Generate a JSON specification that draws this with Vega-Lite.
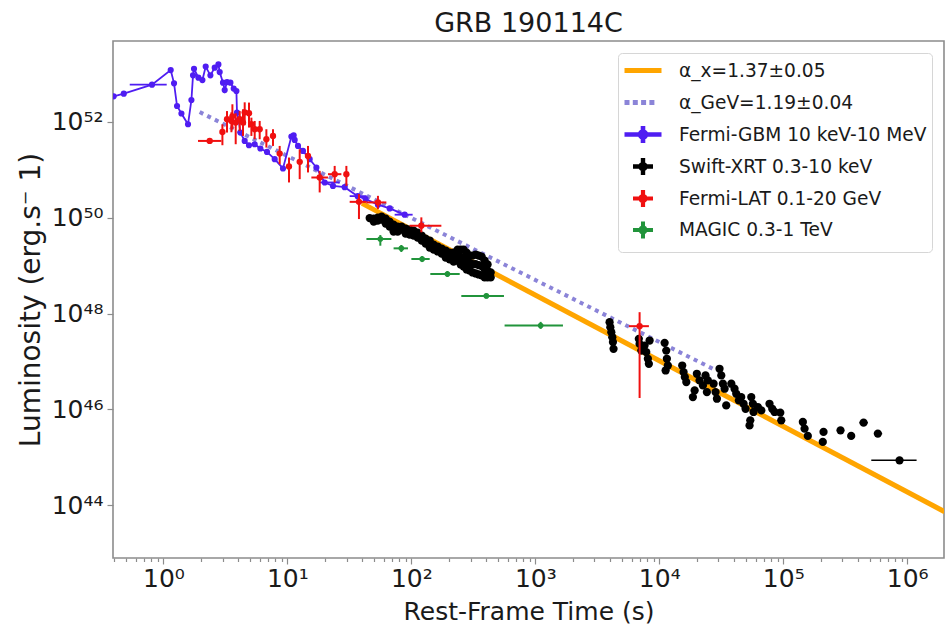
{
  "$schema": "https://vega.github.io/schema/vega-lite/v6.json",
  "width": 831,
  "height": 517,
  "padding": {"left": 17, "top": 10, "right": 2, "bottom": 4},
  "background": "white",
  "title": {"text": "GRB 190114C", "font": "DejaVu Sans", "fontSize": 27, "fontWeight": "normal", "color": "#1a1a1a", "anchor": "middle", "offset": 3},
  "config": {
    "font": "DejaVu Sans",
    "view": {"stroke": "#8c8c8c", "strokeWidth": 1.6}
  },
  "datasets": {
    "fit_x": [
      {"series": "α_x=1.37±0.05", "t": 40, "L": 2.0e50},
      {"series": "α_x=1.37±0.05", "t": 2.0e6, "L": 7.3e43}
    ],
    "fit_gev": [
      {"series": "α_GeV=1.19±0.04", "t": 1.96, "L": 1.61e52},
      {"series": "α_GeV=1.19±0.04", "t": 2.88e4, "L": 6.49e46}
    ],
    "gbm": [
      {"t": 0.397, "L": 3.43e52},
      {"t": 0.479, "L": 3.90e52},
      {"t": 0.809, "L": 6.01e52, "t_lo": 0.535, "t_hi": 1.063},
      {"t": 1.145, "L": 1.21e53},
      {"t": 1.218, "L": 6.40e52},
      {"t": 1.288, "L": 2.15e52},
      {"t": 1.397, "L": 1.50e52},
      {"t": 1.579, "L": 8.95e51},
      {"t": 1.682, "L": 2.87e52},
      {"t": 1.733, "L": 9.40e52},
      {"t": 1.765, "L": 1.29e53},
      {"t": 1.915, "L": 8.41e52},
      {"t": 2.063, "L": 7.50e52},
      {"t": 2.193, "L": 1.43e53},
      {"t": 2.393, "L": 9.40e52},
      {"t": 2.593, "L": 1.36e53},
      {"t": 2.777, "L": 1.59e53},
      {"t": 2.844, "L": 1.10e53},
      {"t": 3.024, "L": 6.62e52},
      {"t": 3.121, "L": 4.63e52},
      {"t": 3.259, "L": 6.81e52},
      {"t": 3.470, "L": 6.62e52},
      {"t": 3.689, "L": 4.97e52},
      {"t": 3.879, "L": 4.43e52},
      {"t": 3.922, "L": 1.57e52},
      {"t": 4.050, "L": 1.08e52},
      {"t": 4.178, "L": 6.01e51},
      {"t": 4.524, "L": 4.02e51},
      {"t": 4.900, "L": 3.27e51},
      {"t": 5.449, "L": 3.43e51},
      {"t": 6.056, "L": 2.79e51},
      {"t": 6.847, "L": 2.37e51},
      {"t": 7.900, "L": 1.67e51},
      {"t": 9.215, "L": 1.07e51},
      {"t": 10.77, "L": 4.97e51},
      {"t": 11.24, "L": 5.28e51},
      {"t": 11.45, "L": 4.22e51},
      {"t": 12.18, "L": 3.16e51},
      {"t": 13.36, "L": 2.49e51},
      {"t": 15.13, "L": 1.67e51},
      {"t": 17.14, "L": 1.12e51},
      {"t": 20.00, "L": 5.46e50, "t_lo": 18.22, "t_hi": 26.42},
      {"t": 23.32, "L": 4.63e50},
      {"t": 28.98, "L": 4.36e50},
      {"t": 36.89, "L": 2.83e50, "t_lo": 31.80, "t_hi": 43.61},
      {"t": 42.80, "L": 2.45e50},
      {"t": 53.78, "L": 1.88e50},
      {"t": 66.83, "L": 1.57e50},
      {"t": 88.31, "L": 1.16e50, "t_lo": 73.33, "t_hi": 102.4}
    ],
    "xrt": [
      {"t": 46.1, "L": 9.86e49},
      {"t": 49.7, "L": 9.62e49}, {"t": 49.7, "L": 8.33e49},
      {"t": 53.5, "L": 1.01e50}, {"t": 53.5, "L": 8.73e49},
      {"t": 57.6, "L": 1.06e50}, {"t": 57.6, "L": 9.17e49},
      {"t": 62.1, "L": 9.62e49}, {"t": 62.1, "L": 7.57e49},
      {"t": 66.8, "L": 8.33e49}, {"t": 66.8, "L": 6.55e49},
      {"t": 71.9, "L": 7.21e49}, {"t": 71.9, "L": 6.10e49}, {"t": 71.9, "L": 5.15e49},
      {"t": 77.6, "L": 6.55e49}, {"t": 77.6, "L": 5.15e49},
      {"t": 83.5, "L": 6.55e49}, {"t": 83.5, "L": 5.68e49},
      {"t": 89.9, "L": 5.96e49}, {"t": 89.9, "L": 4.69e49},
      {"t": 96.9, "L": 5.68e49}, {"t": 96.9, "L": 4.47e49},
      {"t": 104.4, "L": 5.41e49}, {"t": 104.4, "L": 4.26e49},
      {"t": 112.4, "L": 4.91e49}, {"t": 112.4, "L": 3.86e49},
      {"t": 121.1, "L": 4.26e49}, {"t": 121.1, "L": 3.35e49},
      {"t": 130.3, "L": 3.68e49}, {"t": 130.3, "L": 2.90e49},
      {"t": 140.6, "L": 3.35e49}, {"t": 140.6, "L": 2.83e49}, {"t": 140.6, "L": 2.39e49},
      {"t": 151.4, "L": 2.76e49}, {"t": 151.4, "L": 2.17e49},
      {"t": 163.0, "L": 2.51e49}, {"t": 163.0, "L": 1.98e49},
      {"t": 175.4, "L": 2.28e49}, {"t": 175.4, "L": 1.79e49},
      {"t": 189.2, "L": 2.07e49}, {"t": 189.2, "L": 1.75e49}, {"t": 189.2, "L": 1.48e49},
      {"t": 203.7, "L": 1.88e49}, {"t": 203.7, "L": 1.60e49}, {"t": 203.7, "L": 1.35e49},
      {"t": 219.3, "L": 1.88e49}, {"t": 219.3, "L": 1.52e49}, {"t": 219.3, "L": 1.22e49},
      {"t": 236.0, "L": 2.17e49}, {"t": 236.0, "L": 1.67e49}, {"t": 236.0, "L": 1.28e49},
      {"t": 250.0, "L": 2.17e49}, {"t": 250.0, "L": 1.52e49}, {"t": 250.0, "L": 1.06e49},
      {"t": 264.2, "L": 2.17e49}, {"t": 264.2, "L": 1.45e49}, {"t": 264.2, "L": 9.62e48},
      {"t": 279.3, "L": 1.88e49}, {"t": 279.3, "L": 1.25e49}, {"t": 279.3, "L": 8.33e48},
      {"t": 295.1, "L": 1.63e49}, {"t": 295.1, "L": 1.14e49}, {"t": 295.1, "L": 7.94e48},
      {"t": 311.9, "L": 1.63e49}, {"t": 311.9, "L": 1.08e49}, {"t": 311.9, "L": 7.21e48},
      {"t": 330.4, "L": 1.71e49}, {"t": 330.4, "L": 1.08e49}, {"t": 330.4, "L": 6.87e48},
      {"t": 349.1, "L": 1.63e49}, {"t": 349.1, "L": 1.03e49}, {"t": 349.1, "L": 6.55e48},
      {"t": 368.9, "L": 1.55e49}, {"t": 368.9, "L": 9.86e48}, {"t": 368.9, "L": 6.25e48},
      {"t": 389.9, "L": 1.28e49}, {"t": 389.9, "L": 8.53e48}, {"t": 389.9, "L": 5.68e48},
      {"t": 412.1, "L": 1.06e49}, {"t": 412.1, "L": 7.74e48}, {"t": 412.1, "L": 5.68e48},
      {"t": 436.5, "L": 7.21e48}, {"t": 436.5, "L": 5.68e48},
      {"t": 3972, "L": 6.62e47}, {"t": 4027, "L": 5.20e47}, {"t": 4102, "L": 4.09e47},
      {"t": 4178, "L": 3.22e47}, {"t": 4227, "L": 2.54e47}, {"t": 4276, "L": 1.84e47},
      {"t": 6839, "L": 2.97e47}, {"t": 6934, "L": 2.33e47}, {"t": 7161, "L": 1.69e47},
      {"t": 7603, "L": 2.15e47}, {"t": 7852, "L": 1.57e47}, {"t": 8091, "L": 1.14e47},
      {"t": 8241, "L": 8.95e46}, {"t": 8356, "L": 2.74e47},
      {"t": 11040, "L": 2.45e47}, {"t": 11380, "L": 1.69e47}, {"t": 11510, "L": 1.14e47},
      {"t": 11720, "L": 8.24e46}, {"t": 11250, "L": 6.49e46},
      {"t": 15310, "L": 8.24e46}, {"t": 15700, "L": 6.01e46}, {"t": 16070, "L": 4.73e46}, {"t": 16520, "L": 3.72e46},
      {"t": 18660, "L": 1.81e46}, {"t": 19280, "L": 2.49e46}, {"t": 20090, "L": 5.54e46}, {"t": 21130, "L": 4.02e46},
      {"t": 22490, "L": 3.16e46}, {"t": 23600, "L": 5.11e46}, {"t": 24210, "L": 2.30e46}, {"t": 24660, "L": 4.02e46},
      {"t": 27420, "L": 3.43e46}, {"t": 28440, "L": 2.30e46}, {"t": 29170, "L": 1.67e46}, {"t": 30620, "L": 7.05e46},
      {"t": 31620, "L": 5.11e46}, {"t": 32580, "L": 3.43e46}, {"t": 33650, "L": 2.70e46}, {"t": 34670, "L": 1.21e46},
      {"t": 38110, "L": 3.43e46}, {"t": 40460, "L": 2.70e46}, {"t": 41780, "L": 2.12e46}, {"t": 43850, "L": 1.54e46},
      {"t": 45810, "L": 1.81e46}, {"t": 47860, "L": 1.31e46}, {"t": 49660, "L": 1.03e46},
      {"t": 55210, "L": 1.81e46}, {"t": 56890, "L": 1.31e46}, {"t": 57540, "L": 8.83e45},
      {"t": 54200, "L": 5.90e45}, {"t": 53460, "L": 4.63e45}, {"t": 62370, "L": 1.12e46}, {"t": 66530, "L": 9.53e45},
      {"t": 77450, "L": 1.31e46}, {"t": 81470, "L": 1.03e46}, {"t": 85110, "L": 8.83e45},
      {"t": 96380, "L": 5.90e45}, {"t": 94620, "L": 8.53e45},
      {"t": 143900, "L": 5.46e45}, {"t": 148600, "L": 3.96e45}, {"t": 157800, "L": 2.79e45},
      {"t": 211300, "L": 3.38e45}, {"t": 208400, "L": 2.09e45},
      {"t": 289700, "L": 3.65e45}, {"t": 353200, "L": 2.79e45},
      {"t": 444600, "L": 5.28e45, "t_lo": 412000, "t_hi": 481000},
      {"t": 579400, "L": 3.12e45, "t_lo": 544000, "t_hi": 628000},
      {"t": 867000, "L": 8.65e44, "t_lo": 513000, "t_hi": 1190000}
    ],
    "lat": [
      {"t": 2.362, "L": 4.02e51, "t_lo": 1.901, "t_hi": 2.936},
      {"t": 2.991, "L": 6.18e51, "L_lo": 3.27e51, "L_hi": 8.95e51},
      {"t": 3.259, "L": 1.14e52, "L_lo": 6.01e51, "L_hi": 1.69e52},
      {"t": 3.535, "L": 1.05e52, "L_lo": 6.10e51, "L_hi": 1.59e52},
      {"t": 3.601, "L": 1.31e52, "L_lo": 7.05e51, "L_hi": 2.34e52},
      {"t": 3.829, "L": 9.70e51, "L_lo": 3.43e51, "L_hi": 1.52e52},
      {"t": 4.124, "L": 1.14e52, "L_lo": 6.49e51, "L_hi": 1.69e52},
      {"t": 4.385, "L": 9.70e51, "L_lo": 5.11e51, "L_hi": 1.84e52},
      {"t": 4.525, "L": 1.59e52, "L_lo": 8.53e51, "L_hi": 2.57e52},
      {"t": 4.900, "L": 1.52e52, "L_lo": 7.64e51, "L_hi": 2.54e52},
      {"t": 5.125, "L": 8.95e51, "L_lo": 5.11e51, "L_hi": 1.23e52},
      {"t": 5.449, "L": 7.05e51, "L_lo": 4.36e51, "L_hi": 1.05e52},
      {"t": 5.978, "L": 7.05e51, "L_lo": 4.36e51, "L_hi": 1.05e52},
      {"t": 6.769, "L": 4.36e51, "L_lo": 2.92e51, "L_hi": 7.05e51},
      {"t": 7.655, "L": 5.11e51, "L_lo": 3.16e51, "L_hi": 7.05e51},
      {"t": 8.667, "L": 2.19e51, "L_lo": 1.31e51, "L_hi": 3.16e51},
      {"t": 10.30, "L": 1.18e51, "L_lo": 5.46e50, "L_hi": 1.81e51},
      {"t": 12.57, "L": 1.47e51, "L_lo": 6.40e50, "L_hi": 2.70e51},
      {"t": 14.66, "L": 1.95e51, "L_lo": 8.83e50, "L_hi": 3.16e51},
      {"t": 18.22, "L": 6.93e50, "t_lo": 15.61, "t_hi": 21.25, "L_lo": 3.38e50, "L_hi": 9.53e50},
      {"t": 24.07, "L": 8.13e50, "t_lo": 21.25, "t_hi": 27.26, "L_lo": 5.46e50, "L_hi": 1.21e51},
      {"t": 29.91, "L": 8.13e50, "L_lo": 4.63e50, "L_hi": 1.21e51},
      {"t": 37.79, "L": 2.15e50, "t_lo": 31.80, "t_hi": 43.36, "L_lo": 9.40e49, "L_hi": 3.12e50},
      {"t": 53.78, "L": 2.09e50, "t_lo": 43.36, "t_hi": 62.86, "L_lo": 1.52e50, "L_hi": 2.87e50},
      {"t": 120.4, "L": 6.81e49, "t_lo": 96.9, "t_hi": 174.6, "L_lo": 4.97e49, "L_hi": 1.02e50},
      {"t": 6937, "L": 5.46e47, "t_lo": 5686, "t_hi": 8245, "L_lo": 1.73e46, "L_hi": 1.07e48}
    ],
    "magic": [
      {"t": 56.2, "L": 3.60e49, "t_lo": 43.4, "t_hi": 69.0, "L_lo": 2.61e49, "L_hi": 4.36e49},
      {"t": 83.0, "L": 2.30e49, "t_lo": 71.9, "t_hi": 93.9, "L_lo": 1.93e49, "L_hi": 2.70e49},
      {"t": 122.2, "L": 1.38e49, "t_lo": 100, "t_hi": 140.6, "L_lo": 1.19e49, "L_hi": 1.59e49},
      {"t": 195.4, "L": 6.71e48, "t_lo": 142.2, "t_hi": 245.5, "L_lo": 5.81e48, "L_hi": 7.74e48},
      {"t": 402.7, "L": 2.34e48, "t_lo": 252.9, "t_hi": 558.5, "L_lo": 2.07e48, "L_hi": 2.64e48},
      {"t": 1104, "L": 5.62e47, "t_lo": 565, "t_hi": 1671, "L_lo": 4.80e47, "L_hi": 6.71e47}
    ],
    "legend_keys": [
      {"series": "α_x=1.37±0.05", "t": 40, "L": 2.0e50},
      {"series": "α_GeV=1.19±0.04", "t": 1.96, "L": 1.61e52}
    ]
  },
  "encoding": {
    "x": {
      "field": "t", "type": "quantitative",
      "scale": {"type": "log", "domain": [0.392, 1980000], "nice": false},
      "axis": {
        "title": "Rest-Frame Time (s)", "titleFontSize": 25, "titlePadding": 8, "titleFont": "DejaVu Sans", "titleFontWeight": "normal", "titleColor": "#1a1a1a",
        "labelFontSize": 25, "labelPadding": 2, "labelOverlap": false, "labelFont": "DejaVu Sans", "labelColor": "#1a1a1a",
        "domain": false, "grid": false, "tickSize": 6, "tickColor": "#8c8c8c", "tickWidth": 1.2,
        "tickDash": {"condition": {"test": "datum.value == 1 || datum.value == 10 || datum.value == 100 || datum.value == 1000 || datum.value == 10000 || datum.value == 100000 || datum.value == 1000000", "value": [6, 0]}, "value": [3.5, 10]},
        "values": [0.4, 0.5, 0.6, 0.7, 0.8, 0.9, 1, 2, 3, 4, 5, 6, 7, 8, 9, 10, 20, 30, 40, 50, 60, 70, 80, 90, 100, 200, 300, 400, 500, 600, 700, 800, 900, 1000, 2000, 3000, 4000, 5000, 6000, 7000, 8000, 9000, 10000, 20000, 30000, 40000, 50000, 60000, 70000, 80000, 90000, 100000, 200000, 300000, 400000, 500000, 600000, 700000, 800000, 900000, 1000000],
        "labelExpr": "datum.value == 1 ? '10⁰' : datum.value == 10 ? '10¹' : datum.value == 100 ? '10²' : datum.value == 1000 ? '10³' : datum.value == 10000 ? '10⁴' : datum.value == 100000 ? '10⁵' : datum.value == 1000000 ? '10⁶' : ''"
      }
    },
    "y": {
      "field": "L", "type": "quantitative",
      "scale": {"type": "log", "domain": [7.9e42, 4.9e53], "nice": false},
      "axis": {
        "title": "Luminosity (erg.s⁻ 1)", "titleFontSize": 28, "titlePadding": 6, "titleFont": "DejaVu Sans", "titleFontWeight": "normal", "titleColor": "#1a1a1a",
        "labelFontSize": 25, "labelPadding": 4, "labelOverlap": false, "labelFont": "DejaVu Sans", "labelColor": "#1a1a1a",
        "domain": false, "grid": false, "tickSize": 6, "tickColor": "#8c8c8c", "tickWidth": 1.2,
        "values": [1e44, 1e46, 1e48, 1e50, 1e52],
        "labelExpr": "datum.value == 1e44 ? '10⁴⁴' : datum.value == 1e46 ? '10⁴⁶' : datum.value == 1e48 ? '10⁴⁸' : datum.value == 1e50 ? '10⁵⁰' : datum.value == 1e52 ? '10⁵²' : ''"
      }
    }
  },
  "layer": [
    {
      "data": {"name": "fit_x"},
      "mark": {"type": "line", "clip": true, "color": "#ffa500", "strokeWidth": 5, "strokeCap": "butt"}
    },
    {
      "data": {"name": "fit_gev"},
      "mark": {"type": "line", "clip": true, "color": "#8b84d8", "strokeWidth": 4, "strokeDash": [4, 4.5], "strokeCap": "butt"}
    },
    {
      "data": {"name": "gbm"},
      "transform": [{"filter": "isValid(datum.t_lo)"}],
      "mark": {"type": "rule", "clip": true, "color": "#4f1df2", "strokeWidth": 1.8},
      "encoding": {
        "x": {"field": "t_lo", "type": "quantitative"},
        "x2": {"field": "t_hi"}
      }
    },
    {
      "data": {"name": "gbm"},
      "mark": {"type": "line", "clip": true, "color": "#4f1df2", "strokeWidth": 1.8}
    },
    {
      "data": {"name": "gbm"},
      "mark": {"type": "point", "clip": true, "filled": true, "shape": "circle", "color": "#4f1df2", "size": 38, "opacity": 1}
    },
    {
      "data": {"name": "xrt"},
      "transform": [{"filter": "isValid(datum.t_lo)"}],
      "mark": {"type": "rule", "clip": true, "color": "#000000", "strokeWidth": 1.5},
      "encoding": {
        "x": {"field": "t_lo", "type": "quantitative"},
        "x2": {"field": "t_hi"}
      }
    },
    {
      "data": {"name": "xrt"},
      "mark": {"type": "point", "clip": true, "filled": true, "shape": "circle", "color": "#000000", "size": 68, "opacity": 1}
    },
    {
      "data": {"name": "lat"},
      "transform": [{"filter": "isValid(datum.t_lo)"}],
      "mark": {"type": "rule", "clip": true, "color": "#f01010", "strokeWidth": 2},
      "encoding": {
        "x": {"field": "t_lo", "type": "quantitative"},
        "x2": {"field": "t_hi"}
      }
    },
    {
      "data": {"name": "lat"},
      "transform": [{"filter": "isValid(datum.L_lo)"}],
      "mark": {"type": "rule", "clip": true, "color": "#f01010", "strokeWidth": 2},
      "encoding": {
        "y": {"field": "L_lo", "type": "quantitative"},
        "y2": {"field": "L_hi"}
      }
    },
    {
      "data": {"name": "lat"},
      "mark": {"type": "point", "clip": true, "filled": true, "shape": "circle", "color": "#f01010", "size": 40, "opacity": 1}
    },
    {
      "data": {"name": "magic"},
      "mark": {"type": "rule", "clip": true, "color": "#21943b", "strokeWidth": 2},
      "encoding": {
        "x": {"field": "t_lo", "type": "quantitative"},
        "x2": {"field": "t_hi"}
      }
    },
    {
      "data": {"name": "magic"},
      "mark": {"type": "rule", "clip": true, "color": "#21943b", "strokeWidth": 2},
      "encoding": {
        "y": {"field": "L_lo", "type": "quantitative"},
        "y2": {"field": "L_hi"}
      }
    },
    {
      "data": {"name": "magic"},
      "mark": {"type": "point", "clip": true, "filled": true, "shape": "circle", "color": "#21943b", "size": 32, "opacity": 1}
    },
    {
      "data": {"name": "legend_keys"},
      "mark": {"type": "point", "clip": true, "filled": false, "opacity": 0, "size": 400},
      "encoding": {
        "color": {
          "field": "series", "type": "nominal",
          "scale": {
            "domain": ["α_x=1.37±0.05", "α_GeV=1.19±0.04", "Fermi-GBM 10 keV-10 MeV", "Swift-XRT 0.3-10 keV", "Fermi-LAT 0.1-20 GeV", "MAGIC 0.3-1 TeV"],
            "range": ["#ffa500", "#8b84d8", "#4f1df2", "#000000", "#f01010", "#21943b"]
          },
          "legend": {
            "title": null, "orient": "top-right", "offset": 12,
            "labelFont": "DejaVu Sans", "labelFontSize": 18.6, "labelColor": "#1a1a1a", "labelOffset": 31, "labelLimit": 400,
            "symbolSize": 400, "symbolStrokeWidth": 2, "symbolOpacity": 1,
            "rowPadding": -5, "padding": 5, "gridAlign": "all",
            "strokeColor": "#d6d6d6", "fillColor": "white", "cornerRadius": 4
          }
        },
        "shape": {
          "field": "series", "type": "nominal",
          "scale": {
            "domain": ["α_x=1.37±0.05", "α_GeV=1.19±0.04", "Fermi-GBM 10 keV-10 MeV", "Swift-XRT 0.3-10 keV", "Fermi-LAT 0.1-20 GeV", "MAGIC 0.3-1 TeV"],
            "range": [
              "M-1.1,0H2.6",
              "M-1.1,0H1.9",
              "M-1.1,0H2.6M0.75,-0.85V0.85M1.05,0A0.3,0.3 0 1 1 0.45,0A0.3,0.3 0 1 1 1.05,0Z",
              "M-0.25,0H1.75M0.75,-0.85V0.85M1,0A0.25,0.25 0 1 1 0.5,0A0.25,0.25 0 1 1 1,0Z",
              "M-0.25,0H1.75M0.75,-0.85V0.85M1,0A0.25,0.25 0 1 1 0.5,0A0.25,0.25 0 1 1 1,0Z",
              "M-0.25,0H1.75M0.75,-0.85V0.85M1,0A0.25,0.25 0 1 1 0.5,0A0.25,0.25 0 1 1 1,0Z"
            ]
          },
          "legend": {
            "title": null, "orient": "top-right", "offset": 12,
            "labelFont": "DejaVu Sans", "labelFontSize": 18.6, "labelColor": "#1a1a1a", "labelOffset": 31, "labelLimit": 400,
            "symbolSize": 400, "symbolStrokeWidth": 2, "symbolOpacity": 1,
            "rowPadding": -5, "padding": 5, "gridAlign": "all",
            "strokeColor": "#d6d6d6", "fillColor": "white", "cornerRadius": 4
          }
        },
        "strokeDash": {
          "field": "series", "type": "nominal",
          "scale": {
            "domain": ["α_x=1.37±0.05", "α_GeV=1.19±0.04", "Fermi-GBM 10 keV-10 MeV", "Swift-XRT 0.3-10 keV", "Fermi-LAT 0.1-20 GeV", "MAGIC 0.3-1 TeV"],
            "range": [[1, 0], [5, 3.3], [1, 0], [1, 0], [1, 0], [1, 0]]
          },
          "legend": {
            "title": null, "orient": "top-right", "offset": 12,
            "labelFont": "DejaVu Sans", "labelFontSize": 18.6, "labelColor": "#1a1a1a", "labelOffset": 31, "labelLimit": 400,
            "symbolSize": 400, "symbolStrokeWidth": 2, "symbolOpacity": 1,
            "rowPadding": -5, "padding": 5, "gridAlign": "all",
            "strokeColor": "#d6d6d6", "fillColor": "white", "cornerRadius": 4
          }
        },
        "strokeWidth": {
          "field": "series", "type": "ordinal",
          "scale": {
            "domain": ["α_x=1.37±0.05", "α_GeV=1.19±0.04", "Fermi-GBM 10 keV-10 MeV", "Swift-XRT 0.3-10 keV", "Fermi-LAT 0.1-20 GeV", "MAGIC 0.3-1 TeV"],
            "range": [5, 4, 2, 2, 2, 2]
          },
          "legend": {
            "title": null, "orient": "top-right", "offset": 12,
            "labelFont": "DejaVu Sans", "labelFontSize": 18.6, "labelColor": "#1a1a1a", "labelOffset": 31, "labelLimit": 400,
            "symbolSize": 400, "symbolStrokeWidth": 2, "symbolOpacity": 1,
            "rowPadding": -5, "padding": 5, "gridAlign": "all",
            "strokeColor": "#d6d6d6", "fillColor": "white", "cornerRadius": 4
          }
        }
      }
    }
  ]
}
